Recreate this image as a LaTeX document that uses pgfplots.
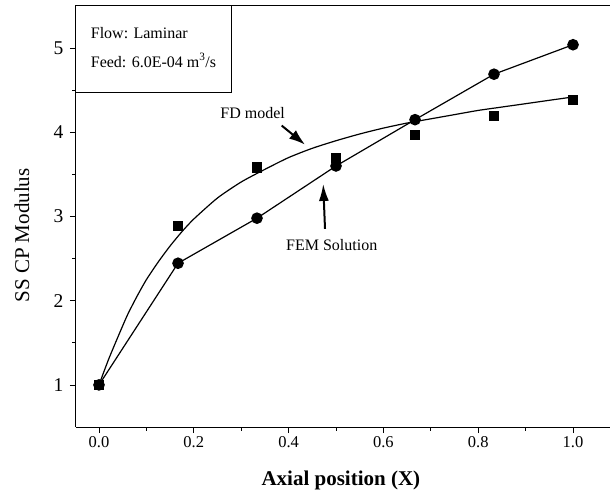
\documentclass[border=0pt]{standalone}
\usepackage{fontspec}
\setmainfont{Liberation Serif}
\usepackage{pgfplots}
\pgfplotsset{compat=1.18}
\usetikzlibrary{arrows.meta}
\begin{document}
\begin{tikzpicture}
\begin{axis}[
  name=ax,
  scale only axis,
  width=534pt, height=421pt,
  xmin=-0.0485, xmax=1.078,
  ymin=0.5, ymax=5.5,
  axis x line=box, axis y line=left,
  axis line style={-, line width=1pt},
  xtick={0,0.2,0.4,0.6,0.8,1.0},
  xticklabels={0.0,0.2,0.4,0.6,0.8,1.0},
  minor xtick={0.1,0.3,0.5,0.7,0.9},
  ytick={1,2,3,4,5},
  minor ytick={1.5,2.5,3.5,4.5},
  xtick pos=bottom, ytick pos=left,
  tick align=outside,
  major tick length=6pt, minor tick length=3.5pt,
  tick style={black, line width=0.8pt},
  /pgf/number format/assume math mode=true,
  xticklabel style={font=\fontsize{16.5}{19}\selectfont},
  yticklabel style={font=\fontsize{19.5}{22}\selectfont, xshift=-3pt},
  xlabel={\textbf{Axial position (X)}},
  ylabel={SS CP Modulus},
  xlabel style={at={(rel axis cs:0.496,0)}, anchor=center, yshift=-53pt,
                font=\fontsize{21}{25}\selectfont},
  ylabel style={at={(rel axis cs:-0.101,0.455)}, anchor=center,
                font=\fontsize{21}{25}\selectfont},
  clip=false,
]
% FD model: smooth curve
\addplot[black, line width=1.2pt, smooth, tension=0.4] coordinates {
  (0,1.00) (0.02,1.30) (0.04,1.57) (0.06,1.83) (0.08,2.05) (0.10,2.25)
  (0.125,2.46) (0.15,2.65) (0.175,2.82) (0.20,2.97) (0.25,3.22)
  (0.30,3.41) (0.35,3.56) (0.40,3.70) (0.45,3.81) (0.50,3.90)
  (0.55,3.98) (0.60,4.05) (0.65,4.11) (0.70,4.16) (0.75,4.21)
  (0.80,4.26) (0.85,4.30) (0.90,4.34) (0.95,4.38) (1.00,4.42)
};
% FEM solution
\addplot[black, line width=1.2pt, mark=*, mark size=5.2pt] coordinates {
  (0,1.00) (0.1667,2.445) (0.3333,2.98) (0.5,3.60)
  (0.6667,4.15) (0.8333,4.69) (1.0,5.04)
};
% FD model nodal values
\addplot[black, only marks, mark=square*, mark size=4.6pt] coordinates {
  (0,1.00) (0.1667,2.89) (0.3333,3.585) (0.5,3.70)
  (0.6667,3.97) (0.8333,4.20) (1.0,4.385)
};
% operating conditions box
\draw[line width=1pt] (rel axis cs:0,1) rectangle (axis cs:0.2785,4.476);
\node[anchor=base west, inner sep=0pt, font=\fontsize{16}{19}\selectfont]
  at (axis cs:-0.0175,5.118) {Flow: Laminar};
\node[anchor=base west, inner sep=0pt, font=\fontsize{16}{19}\selectfont]
  at (axis cs:-0.0175,4.773) {Feed: 6.0E-04 m\textsuperscript{3}/s};
% annotations
\node[anchor=base, inner sep=0pt, font=\fontsize{16}{19}\selectfont]
  at (axis cs:0.324,4.159) {FD model};
\draw[line width=2pt, -{Latex[length=16pt,width=11pt]}]
  (axis cs:0.3854,4.080) -- (axis cs:0.4346,3.854);
\node[anchor=base west, inner sep=0pt, font=\fontsize{16}{19}\selectfont]
  at (axis cs:0.3945,2.595) {FEM Solution};
\draw[line width=2pt, -{Latex[length=17pt,width=10pt]}]
  (axis cs:0.4768,2.853) -- (axis cs:0.473,3.387);
\end{axis}
\pgfresetboundingbox
\path ([xshift=-76pt,yshift=-71pt]ax.south west) rectangle ([yshift=6pt]ax.north east);
\end{tikzpicture}
\end{document}
